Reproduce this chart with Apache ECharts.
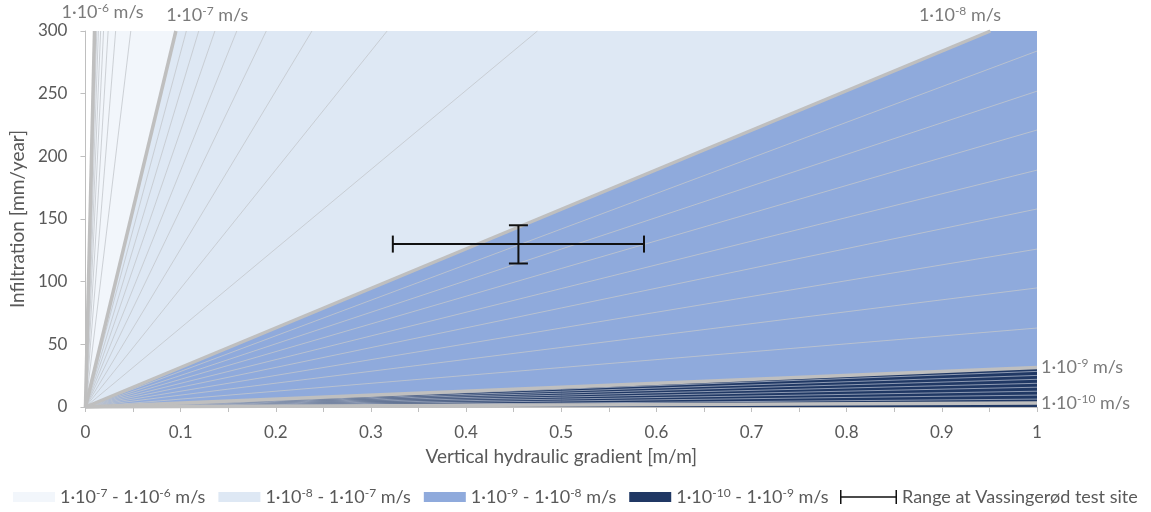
<!DOCTYPE html>
<html><head><meta charset="utf-8">
<script src="https://cdn.jsdelivr.net/npm/echarts@6/dist/echarts.min.js"></script>
<style>html,body{margin:0;padding:0;background:#fff}#c{width:1151px;height:512px}</style>
</head><body><div id="c"></div>
<script>
// ---- data ----
// band legend names (between two conductivity boundaries)
const bandNames = ['1·10-7 - 1·10-6 m/s', '1·10-8 - 1·10-7 m/s', '1·10-9 - 1·10-8 m/s', '1·10-10 - 1·10-9 m/s'];
// boundary conductivity lines: visible end point [gradient, infiltration] (line starts at origin)
const boundaryNames = ['1·10-6 m/s', '1·10-7 m/s', '1·10-8 m/s', '1·10-9 m/s', '1·10-10 m/s'];
const boundaryEnds = [[0.0095, 300], [0.095, 300], [0.951, 300], [1, 31.5], [1, 3.15]];
// thin intermediate lines inside each band (visible end points)
const band1Ends = [[0.0106, 300], [0.0119, 300], [0.0136, 300], [0.0159, 300], [0.019, 300], [0.0238, 300], [0.0317, 300], [0.0476, 300]];
const band2Ends = [[0.106, 300], [0.119, 300], [0.136, 300], [0.159, 300], [0.19, 300], [0.238, 300], [0.317, 300], [0.475, 300]];
const band3Ends = [[1, 284], [1, 252], [1, 221], [1, 189], [1, 158], [1, 126], [1, 95], [1, 63]];
const band4Ends = [[1, 28.4], [1, 25.2], [1, 22.1], [1, 18.9], [1, 15.8], [1, 12.6], [1, 9.5], [1, 6.3]];
// test site range
const rangeName = 'Range at Vassingerød test site';
const rangeGradient = [0.323, 0.455, 0.587];     // low, centre, high
const rangeInfiltration = [114.5, 130, 145];     // low, centre, high
const xTickLabels = ['0', '0.1', '0.2', '0.3', '0.4', '0.5', '0.6', '0.7', '0.8', '0.9', '1'];

// ---- styles ----
const bandColors = ['#f2f6fb', '#dee8f4', '#8faadc', '#203864'];
const txt = '#595959';
const FONT = 'Lato';
const fmt = s => s.replace(/10(-\d+)/g, '10{sup|$1}');
const rich = {
  sup: { fontSize: 12, fontFamily: FONT, color: txt, verticalAlign: 'top', lineHeight: 20 }
};

const series = [];
// fills (upper boundary of each band down to the axis)
bandNames.forEach((name, i) => {
  const e = boundaryEnds[i];
  const data = [[0, 0], e];
  if (e[1] >= 300) data.push([1, 300]);
  series.push({
    name, type: 'line', data, showSymbol: false, symbol: 'none', silent: true,
    itemStyle: { color: bandColors[i] },
    lineStyle: { width: 0, opacity: 0 },
    areaStyle: { color: bandColors[i], opacity: 1 },
    z: 1, animation: false
  });
});
// thin lines
[band1Ends, band2Ends, band3Ends, band4Ends].forEach((arr, bi) => {
  arr.forEach(e => {
    series.push({
      type: 'line', data: [[0, 0], e], showSymbol: false, symbol: 'none', silent: true,
      lineStyle: { width: 0.8, color: bi === 3 ? '#aab4c8' : '#c3c7cc' },
      z: 2, animation: false
    });
  });
});
// thick boundaries
boundaryEnds.forEach(e => {
  series.push({
    type: 'line', data: [[0, 0], e], showSymbol: false, symbol: 'none', silent: true,
    lineStyle: { width: 3.5, color: '#bfbfbf' },
    z: 3, animation: false
  });
});
// boundary labels
const labelAnchors = [
  { value: [0.018, 300], pos: 'top', dist: 9 },
  { value: [0.128, 300], pos: 'top', dist: 6 },
  { value: [0.919, 300], pos: 'top', dist: 6 },
  { value: boundaryEnds[3], pos: 'right', dist: 4 },
  { value: boundaryEnds[4], pos: 'right', dist: 4 }
];
series.push({
  type: 'scatter', symbolSize: 0, silent: true, z: 5, animation: false, clip: false,
  data: labelAnchors.map((a, i) => ({
    value: a.value,
    label: {
      show: true, position: a.pos, distance: a.dist,
      formatter: fmt(boundaryNames[i]),
      fontSize: 18, fontFamily: FONT, color: txt, lineHeight: 20, rich
    }
  }))
});
// error bar
series.push({
  name: rangeName, type: 'custom', z: 6, animation: false, silent: true,
  itemStyle: { color: '#000' },
  data: [[rangeGradient[0], rangeGradient[1], rangeGradient[2], rangeInfiltration[0], rangeInfiltration[1], rangeInfiltration[2]]],
  encode: { x: [0, 1, 2], y: [3, 4, 5] },
  renderItem(params, api) {
    const pL = api.coord([api.value(0), api.value(4)]);
    const pH = api.coord([api.value(2), api.value(4)]);
    const pB = api.coord([api.value(1), api.value(3)]);
    const pT = api.coord([api.value(1), api.value(5)]);
    const st = { stroke: '#111', lineWidth: 2 };
    const cy = 8.5, cx = 9.5;
    const ln = (x1, y1, x2, y2) => ({ type: 'line', shape: { x1, y1, x2, y2 }, style: st });
    return {
      type: 'group', children: [
        ln(pL[0], pL[1], pH[0], pH[1]),
        ln(pL[0], pL[1] - cy, pL[0], pL[1] + cy),
        ln(pH[0], pH[1] - cy, pH[0], pH[1] + cy),
        ln(pB[0], pB[1], pT[0], pT[1]),
        ln(pB[0] - cx, pB[1], pB[0] + cx, pB[1]),
        ln(pT[0] - cx, pT[1], pT[0] + cx, pT[1])
      ]
    };
  }
});

const chart = echarts.init(document.getElementById('c'), null, { renderer: 'canvas' });
chart.setOption({
  animation: false,
  backgroundColor: '#fff',
  textStyle: { fontFamily: FONT },
  grid: { left: 84, right: 114, top: 31, bottom: 105, containLabel: false },
  xAxis: {
    type: 'value', min: 0, max: 1, interval: 0.1,
    name: 'Vertical hydraulic gradient [m/m]', nameLocation: 'middle', nameGap: 40,
    nameTextStyle: { fontSize: 19, color: txt, fontFamily: FONT },
    axisLine: { show: true, onZero: false, lineStyle: { color: '#bfbfbf', width: 1 } },
    axisTick: { show: true, length: 5, lineStyle: { color: '#bfbfbf' } },
    minorTick: { show: true, splitNumber: 2, length: 5, lineStyle: { color: '#bfbfbf' } },
    splitLine: { show: false },
    axisLabel: { fontSize: 17, color: txt, margin: 17, fontFamily: FONT,
      formatter: (v) => xTickLabels[Math.round(v * 10)] }
  },
  yAxis: {
    type: 'value', min: 0, max: 300, interval: 50,
    name: 'Infiltration [mm/year]', nameLocation: 'middle', nameGap: 57, nameRotate: 90,
    nameTextStyle: { fontSize: 19, color: txt, fontFamily: FONT },
    axisLine: { show: true, onZero: false, lineStyle: { color: '#bfbfbf', width: 1 } },
    axisTick: { show: true, length: 5, lineStyle: { color: '#bfbfbf' } },
    splitLine: { show: false },
    axisLabel: { fontSize: 17, color: txt, margin: 18, fontFamily: FONT }
  },
  legend: [
    {
      data: bandNames.map(n => ({ name: n, icon: 'rect' })),
      left: 8, top: 482, itemWidth: 42, itemHeight: 10, itemGap: 13,
      selectedMode: false,
      formatter: n => fmt(n),
      textStyle: { fontSize: 18, color: txt, fontFamily: FONT, lineHeight: 20, rich }
    },
    {
      data: [{ name: rangeName, icon: 'path://M0,0H1.5V6.3H55.5V0H57V14H55.5V7.7H1.5V14H0Z', itemStyle: { color: '#111' } }],
      left: 835, top: 482, itemWidth: 57, itemHeight: 14, itemGap: 5,
      selectedMode: false,
      textStyle: { fontSize: 18, color: txt, fontFamily: FONT, lineHeight: 20 }
    }
  ],
  series
});
</script></body></html>
